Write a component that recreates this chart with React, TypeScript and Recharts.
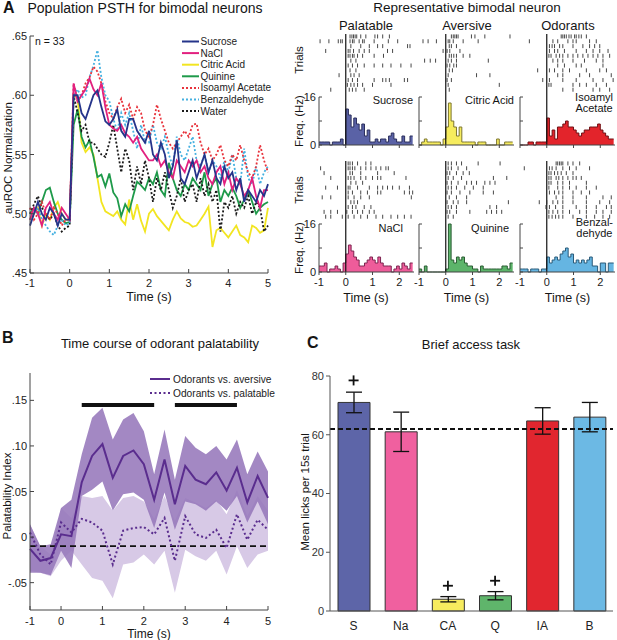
import React from 'react';
import {
  ComposedChart, Line, Area, XAxis, YAxis, ReferenceLine,
  ScatterChart, Scatter, Bar, ErrorBar, Cell,
} from 'recharts';

const FONT = '"Liberation Sans", Arial, Helvetica, sans-serif';
const AXIS = '#444';

// ---------- Panel A: population PSTH (auROC), 0.1 s steps
const psthTime = [
  -1, -0.9, -0.8, -0.7, -0.6, -0.5, -0.4, -0.3, -0.2, -0.1,
  0, 0.1, 0.2, 0.3, 0.4, 0.5, 0.6, 0.7, 0.8, 0.9,
  1, 1.1, 1.2, 1.3, 1.4, 1.5, 1.6, 1.7, 1.8, 1.9,
  2, 2.1, 2.2, 2.3, 2.4, 2.5, 2.6, 2.7, 2.8, 2.9,
  3, 3.1, 3.2, 3.3, 3.4, 3.5, 3.6, 3.7, 3.8, 3.9,
  4, 4.1, 4.2, 4.3, 4.4, 4.5, 4.6, 4.7, 4.8, 4.9,
  5,
];
const sucrose = [
  .490, .500, .510, .500, .495, .505, .500, .490, .500, .495,
  .495, .600, .600, .585, .580, .590, .600, .604, .590, .578,
  .575, .580, .588, .570, .565, .580, .580, .570, .565, .560,
  .570, .550, .545, .560, .550, .530, .540, .562, .530, .525,
  .535, .545, .530, .540, .550, .535, .545, .530, .525, .540,
  .530, .535, .520, .530, .510, .520, .515, .510, .520, .515,
  .525,
];
const nacl = [
  .495, .505, .500, .490, .505, .510, .500, .495, .505, .500,
  .495, .610, .595, .600, .605, .614, .605, .600, .610, .590,
  .575, .572, .570, .575, .568, .565, .560, .565, .555, .550,
  .545, .545, .550, .540, .545, .535, .530, .545, .540, .535,
  .545, .540, .545, .535, .540, .530, .525, .535, .540, .525,
  .535, .520, .530, .525, .515, .520, .530, .515, .505, .520,
  .520,
];
const citric = [
  .495, .500, .505, .490, .500, .495, .505, .510, .500, .495,
  .495, .600, .598, .560, .552, .556, .550, .530, .510, .502,
  .500, .498, .502, .495, .491, .512, .495, .508, .494, .485,
  .500, .504, .498, .494, .490, .486, .495, .502, .496, .493,
  .492, .489, .490, .495, .500, .506, .472, .486, .488, .484,
  .480, .485, .490, .482, .480, .476, .490, .488, .484, .486,
  .505,
];
const quinine = [
  .500, .505, .500, .510, .520, .522, .510, .500, .495, .492,
  .493, .575, .588, .565, .556, .562, .548, .531, .533, .523,
  .534, .518, .513, .498, .508, .502, .515, .527, .524, .520,
  .530, .525, .535, .520, .515, .543, .530, .520, .515, .525,
  .520, .530, .525, .520, .535, .515, .525, .530, .510, .520,
  .515, .522, .515, .505, .512, .520, .510, .500, .505, .508,
  .510,
];
const isoamyl = [
  .505, .495, .500, .510, .500, .495, .505, .500, .490, .495,
  .495, .610, .595, .600, .610, .615, .624, .620, .610, .595,
  .585, .580, .590, .597, .585, .592, .580, .590, .585, .570,
  .565, .575, .592, .580, .570, .560, .555, .560, .565, .570,
  .565, .575, .576, .560, .550, .555, .545, .550, .558, .545,
  .540, .550, .545, .558, .545, .535, .530, .540, .558, .545,
  .535,
];
const benzaldehyde = [
  .495, .500, .505, .495, .490, .485, .482, .490, .495, .490,
  .492, .600, .605, .598, .600, .615, .625, .638, .615, .600,
  .595, .580, .570, .585, .575, .585, .570, .555, .575, .560,
  .560, .575, .560, .555, .565, .550, .540, .565, .550, .545,
  .555, .565, .545, .540, .550, .535, .545, .540, .530, .545,
  .535, .550, .530, .525, .555, .530, .525, .540, .525, .535,
  .540,
];
const water = [
  .500, .508, .515, .505, .500, .495, .500, .490, .485, .488,
  .490, .600, .585, .570, .575, .560, .560, .555, .550, .548,
  .560, .575, .555, .535, .555, .545, .520, .540, .525, .545,
  .530, .510, .530, .520, .535, .520, .505, .515, .530, .510,
  .520, .525, .510, .530, .515, .525, .510, .520, .485, .510,
  .505, .515, .500, .510, .505, .515, .500, .510, .505, .485,
  .490,
];
const psthTicksX = [-1, 0, 1, 2, 3, 4, 5];
const psthTicksY = [0.45, 0.5, 0.55, 0.6, 0.65];

const psthSeries = [
  { key: 'sucrose', name: 'Sucrose', color: '#25348a', dotted: false },
  { key: 'nacl', name: 'NaCl', color: '#e2207f', dotted: false },
  { key: 'citric', name: 'Citric Acid', color: '#f2e521', dotted: false },
  { key: 'quinine', name: 'Quinine', color: '#1e9a4a', dotted: false },
  { key: 'isoamyl', name: 'Isoamyl Acetate', color: '#e8333c', dotted: true },
  { key: 'benzaldehyde', name: 'Benzaldehyde', color: '#45b0e0', dotted: true },
  { key: 'water', name: 'Water', color: '#1a1a1a', dotted: true },
];
// drawing order (back to front)
const psthDrawOrder = ['citric', 'quinine', 'water', 'benzaldehyde', 'isoamyl', 'nacl', 'sucrose'];

// ---------- Representative neuron: 0.1 s bins from -1 to 2.5 s
const binEdges = [
  -1, -0.9, -0.8, -0.7, -0.6, -0.5, -0.4, -0.3, -0.2, -0.1,
  0, 0.1, 0.2, 0.3, 0.4, 0.5, 0.6, 0.7, 0.8, 0.9,
  1, 1.1, 1.2, 1.3, 1.4, 1.5, 1.6, 1.7, 1.8, 1.9,
  2, 2.1, 2.2, 2.3, 2.4, 2.5,
];
const sucroseHist = [1, 1, 1, 1, 0, 1, 1, 1, 2, 0, 12, 10, 6, 9, 7, 5, 7, 3, 5, 1, 1, 2, 1, 2, 2, 1, 3, 4, 2, 1, 1, 3, 1, 1, 3];
const citricHist = [0, 1, 2, 1, 1, 1, 1, 1, 0, 2, 6, 14, 8, 6, 3, 6, 1, 1, 1, 1, 1, 0, 1, 1, 1, 0, 0, 0, 0, 2, 0, 0, 1, 1, 1];
const isoHist = [0, 0, 0, 1, 1, 0, 1, 1, 1, 1, 9, 3, 5, 2, 6, 6, 7, 8, 6, 6, 5, 4, 3, 4, 5, 5, 6, 6, 6, 7, 5, 4, 3, 2, 2];
const naclHist = [2, 2, 3, 0, 1, 1, 2, 1, 0, 3, 6, 9, 7, 5, 4, 2, 2, 3, 4, 5, 4, 3, 5, 3, 2, 2, 2, 0, 1, 2, 1, 3, 2, 1, 3];
const quinHist = [1, 0, 2, 0, 0, 0, 0, 0, 0, 0, 1, 16, 4, 3, 5, 4, 5, 3, 2, 2, 1, 1, 0, 2, 1, 1, 1, 1, 1, 1, 1, 2, 2, 1, 3];
const benzHist = [1, 1, 1, 0, 1, 1, 1, 0, 1, 1, 5, 3, 4, 5, 4, 6, 7, 8, 5, 6, 3, 4, 3, 4, 3, 4, 5, 2, 2, 0, 3, 3, 0, 3, 3];

// spike times (s) per trial
const sucroseRaster = [
  [0.16, 0.23, 0.29, 0.35, 0.41, 0.56, 0.75, 1.09, 1.19, 1.38, 1.63],
  [-0.96, -0.63, -0.28, -0.19, -0.13, 0.16, 0.25, 0.31, 0.5, 0.63, 0.69, 1.06, 1.59, 1.94],
  [0.19, 0.56, 0.88, 1.19, 1.38, 2.31, 2.4],
  [-0.75, 0.09, 0.16, 0.29, 0.5, 0.69, 0.88, 1.56, 1.75],
  [0.09, 0.16, 0.25, 0.31, 0.44, 0.63, 1.06, 1.41],
  [0.19, 0.38],
  [0.09, 0.25, 0.44, 0.69, 1.06, 1.38, 1.69, 2.06, 2.44],
  [0.16, 0.38],
  [-0.25, 0.19, 0.31, 0.5],
  [0.09, 0.25, 0.44, 1.06, 1.38, 1.5, 1.63, 2.19, 2.31],
  [0.06, 0.19, 0.31, 0.44, 0.63, 1.0, 1.69],
  [-0.56, 0.13, 0.25, 0.38, 0.69],
];
const citricRaster = [
  [0.21, 0.28, 0.34, 0.4, 0.46, 0.96, 1.09, 1.46, 2.4],
  [-0.85, -0.66, -0.35, 0.09, 0.15, 0.28, 0.65, 1.21],
  [0.13, 0.21, 0.4],
  [-0.1, 0.05, 0.15, 0.53],
  [0.13, 0.21, 0.3, 0.4, 0.65, 0.9],
  [-0.79, -0.58, -0.38, 0.09, 0.21, 0.4, 1.59],
  [0.05, 0.15, 0.3, 0.4],
  [0.13, 0.25],
  [0.09, 1.15, 1.65],
  [0.05, 0.21],
  [0.09, 2.0],
  [0.13],
];
const isoRaster = [
  [0.54, 0.6, 0.66, 0.73, 0.83, 0.91, 1.04, 1.1, 1.2, 1.29, 1.48],
  [-0.65, 0.23, 0.41, 0.79, 0.98, 1.1, 1.6, 1.85],
  [0.1, 0.2, 0.29, 0.48, 0.6, 0.98, 1.35, 1.6, 1.79, 1.98],
  [0.1, 0.29, 0.41, 0.66, 1.1, 1.48, 1.73, 1.98, 2.29],
  [0.08, 0.16, 0.35, 0.48, 0.6, 0.79, 0.98, 1.16, 1.35, 1.54, 1.73, 1.91, 2.1, 2.35],
  [0.23, 0.41, 0.6, 0.98, 1.41, 1.85, 2.1],
  [0.41, 0.66, 1.1, 1.29, 2.1],
  [-0.34, 0.1, 0.29, 0.6, 0.85, 1.48, 1.98, 2.23],
  [0.41, 0.6, 1.23, 1.6, 2.41],
  [-0.15, 0.1, 0.6, 1.1, 1.73, 2.1, 2.48],
  [0.08, 0.16, 0.98, 1.23, 1.48, 1.85, 2.23],
  [0.6, 0.98, 1.73, 1.98, 2.35],
];
const naclRaster = [
  [0.09, 0.16, 0.25, 0.44, 0.75, 0.94],
  [-0.94, 0.09, 0.16, 0.25, 0.34, 0.56, 0.75, 0.94, 1.13, 1.31, 1.5, 1.59],
  [-0.81, 0.16, 0.25, 0.56, 1.19, 1.81],
  [-0.56, 0.09, 0.19, 0.31, 0.56, 0.75, 1.0, 1.19, 1.31, 2.25],
  [0.19, 0.38, 0.63],
  [-0.75, -0.31, 0.09, 0.16, 0.44, 0.88, 1.19, 1.38, 1.56, 1.75, 2.0, 2.38],
  [0.09, 0.25, 0.56, 0.81, 1.19, 1.31, 2.19, 2.38, 2.5],
  [-0.88, -0.56, 0.09, 0.31, 0.56, 0.88, 2.45],
  [0.19, 0.31, 0.44],
  [0.09, 0.25, 0.38, 0.69, 0.94],
  [-0.81, -0.56, -0.31, 0.04, 0.25, 0.44, 0.63, 0.88, 1.06],
  [-0.75, -0.56, -0.13, 0.09, 0.31, 0.56, 0.81, 1.13, 1.38, 1.69, 1.94, 2.19, 2.44],
];
const quinRaster = [
  [0.09, 0.21, 0.4, 0.59, 1.21, 2.03],
  [0.09, 0.21, 0.46, 0.78],
  [0.05, 0.15, 0.4, 0.65, 0.88],
  [0.09, 0.28, 0.59, 1.78, 2.28],
  [0.05, 0.21, 0.46, 0.78, 0.96, 1.15, 1.46, 1.65, 1.84],
  [0.09, 0.21, 0.4, 0.71, 1.03, 1.4],
  [0.05, 0.21, 0.53, 0.9, 1.4, 1.78],
  [0.13, 0.4, 0.78],
  [0.05, 0.28, 0.46, 0.78, 2.34],
  [0.09, 0.21, 0.4, 1.65, 1.9],
  [0.05, 0.15, 0.4, 0.9, 1.53, 1.71, 1.9, 2.09],
  [0.09, 0.28],
];
const benzRaster = [
  [0.35, 0.41, 0.48, 0.54, 0.6, 0.79, 0.98, 1.23],
  [-0.84, 0.1, 0.2, 0.35, 0.6, 0.85, 1.1, 1.6],
  [0.08, 0.16, 0.29, 0.41, 0.54, 0.73, 0.98],
  [0.08, 0.16, 0.35, 0.45, 0.6, 0.79, 0.98, 1.1, 1.29],
  [0.08, 0.16, 0.41, 0.6, 0.85, 1.48],
  [0.08, 0.41, 0.6, 0.85, 1.1, 1.48, 1.85],
  [0.1, 0.29, 0.45, 0.6, 0.98, 1.29, 1.6],
  [0.35, 0.6, 0.98, 1.48, 2.1, 2.41],
  [-0.28, 0.0, 0.23, 0.41, 0.6, 0.98, 1.48, 1.98, 2.35],
  [-0.03, 0.1, 0.33, 0.6, 1.1, 1.48, 1.85, 2.23, 2.41],
  [0.08, 0.23, 0.41, 0.6, 0.85, 1.23, 1.48, 1.85, 2.1, 2.41],
  [0.08, 0.2, 0.33, 0.45, 0.6, 0.98, 1.48, 1.79, 2.1, 2.35],
];

// ---------- Panel B: palatability index, 0.25 s bins
const pbTime = [-0.75, -0.5, -0.25, 0, 0.25, 0.5, 0.75, 1, 1.25, 1.5, 1.75, 2, 2.25, 2.5, 2.75, 3, 3.25, 3.5, 3.75, 4, 4.25, 4.5, 4.75, 5];
const vsAversive = [-0.013, -0.026, -0.023, 0.003, 0.001, 0.060, 0.089, 0.102, 0.065, 0.089, 0.095, 0.080, 0.041, 0.085, 0.036, 0.078, 0.063, 0.058, 0.071, 0.051, 0.076, 0.038, 0.067, 0.043];
const vsAversiveHi = [0.014, -0.010, -0.008, 0.032, 0.041, 0.091, 0.131, 0.142, 0.107, 0.129, 0.136, 0.116, 0.069, 0.118, 0.063, 0.111, 0.098, 0.091, 0.100, 0.085, 0.107, 0.069, 0.094, 0.072];
const vsAversiveLo = [-0.039, -0.039, -0.042, -0.015, -0.034, 0.045, 0.052, 0.061, 0.029, 0.047, 0.049, 0.041, 0.010, 0.049, 0.008, 0.039, 0.036, 0.029, 0.039, 0.029, 0.045, 0.016, 0.039, 0.014];
const vsPalatable = [0.005, -0.019, -0.030, 0.016, 0.005, 0.020, 0.016, 0.007, -0.030, 0.007, 0.010, 0.011, 0.003, 0.021, -0.026, 0.023, 0.003, -0.001, 0.008, -0.012, 0.025, -0.003, 0.019, 0.008];
const vsPalatableHi = [0.014, -0.010, -0.019, 0.032, 0.021, 0.045, 0.043, 0.045, 0.029, 0.043, 0.045, 0.039, 0.020, 0.045, 0.018, 0.043, 0.038, 0.032, 0.041, 0.025, 0.052, 0.023, 0.045, 0.029];
const vsPalatableLo = [-0.037, -0.039, -0.043, -0.026, -0.015, -0.030, -0.045, -0.048, -0.067, -0.030, -0.028, -0.019, -0.030, -0.015, -0.061, -0.014, -0.021, -0.026, -0.015, -0.041, -0.010, -0.034, -0.019, -0.015];
const sigBars = [[0.5, 2.25], [2.75, 4.25]];
const sigBarY = 0.145;
const pbBaseline = -0.01;
const pbTicksX = [-0.75, 0, 1, 2, 3, 4, 5];
const pbTickLabels = ['-1', '0', '1', '2', '3', '4', '5'];
const pbTicksY = [-0.05, 0, 0.05, 0.1, 0.15];
const PURPLE = '#5a2d8e';

// ---------- Panel C: brief access task
const tastants = ['S', 'Na', 'CA', 'Q', 'IA', 'B'];
const meanLicks = [71, 61, 4, 5.2, 64.7, 66];
const licksErr = [3.5, 6.7, 0.9, 1.4, 4.5, 5];
const plusMarks = [78.5, null, 8.6, 10.3, null, null];
const barColors = ['#5d65a8', '#f0609f', '#f7ec5f', '#5fb56b', '#e1262f', '#6cb9e4'];
const waterLicks = 62;

const psthRows = psthTime.map((t, i) => ({
  t, sucrose: sucrose[i], nacl: nacl[i], citric: citric[i], quinine: quinine[i],
  isoamyl: isoamyl[i], benzaldehyde: benzaldehyde[i], water: water[i],
}));
const pbRows = pbTime.map((t, i) => ({
  t,
  av: vsAversive[i], avBand: [vsAversiveLo[i], vsAversiveHi[i]],
  pal: vsPalatable[i], palBand: [vsPalatableLo[i], vsPalatableHi[i]],
}));
const lickRows = tastants.map((cat, i) => ({ cat, licks: meanLicks[i], err: licksErr[i], plus: plusMarks[i] }));

const fmtDec = (v: number) => (v === 0 ? '0' : v.toFixed(2).replace('0.', '.'));

function Txt({ x, y, size = 12, anchor = 'middle', weight = 400, rotate = false, align = 'left', children }: any) {
  const tx = anchor === 'middle' ? '-50%' : anchor === 'end' ? '-100%' : '0';
  return (
    <div style={{
      position: 'absolute', left: x, top: y, fontSize: size, fontWeight: weight, lineHeight: 1,
      transform: `translate(${tx},-50%)${rotate ? ' rotate(-90deg)' : ''}`,
      whiteSpace: 'nowrap', color: '#151515', textAlign: align,
    }}>{children}</div>
  );
}

function TickX(p: any) {
  const { x, y, payload, up, len, show, fmt, gap } = p;
  return (
    <g>
      <line x1={x} x2={x} y1={y} y2={up ? y - len : y + len} stroke={AXIS} strokeWidth={1} />
      {show && (
        <text x={x} y={y + gap} textAnchor="middle" dominantBaseline="central" fontSize={11} fill="#222" fontFamily={FONT}>
          {fmt ? fmt(payload.value) : payload.value}
        </text>
      )}
    </g>
  );
}

function TickY(p: any) {
  const { x, y, payload, len, show, fmt } = p;
  return (
    <g>
      <line x1={x} x2={x + len} y1={y} y2={y} stroke={AXIS} strokeWidth={1} />
      {show && (
        <text x={x - 3} y={y} textAnchor="end" dominantBaseline="central" fontSize={11} fill="#222" fontFamily={FONT}>
          {fmt ? fmt(payload.value) : payload.value}
        </text>
      )}
    </g>
  );
}

const SpikeTick = (p: any) => (
  <line x1={p.cx} x2={p.cx} y1={p.cy - 2} y2={p.cy + 2} stroke="#333" strokeWidth={0.9} />
);

const PlusShape = (p: any) => {
  if (p.cy == null || isNaN(p.cy) || p.payload?.plus == null) return <g />;
  return (
    <g stroke="#111" strokeWidth={1.8}>
      <line x1={p.cx - 5} x2={p.cx + 5} y1={p.cy} y2={p.cy} />
      <line x1={p.cx} x2={p.cx} y1={p.cy - 5} y2={p.cy + 5} />
    </g>
  );
};

const COL_X = [319, 419, 519.5];

function NeuronCell({ col, row, hist, raster, fill, stroke }: any) {
  const left = COL_X[col];
  const rasterTop = row === 0 ? 34 : 161;
  const histTop = row === 0 ? 89 : 216;
  const spikes = raster.flatMap((ts: number[], i: number) => ts.map((t) => ({ t, trial: i + 1 })));
  const bins = binEdges.map((t, i) => ({ t, v: i < hist.length ? hist[i] : hist[hist.length - 1] }));
  return (
    <>
      <div style={{ position: 'absolute', left, top: rasterTop }}>
        <ScatterChart width={95} height={63} margin={{ top: 0, right: 0, bottom: 0, left: 0 }}>
          <XAxis type="number" dataKey="t" domain={[-1, 2.55]} hide allowDataOverflow />
          <YAxis type="number" dataKey="trial" domain={[0.5, 13.5]} reversed hide width={0} />
          <ReferenceLine x={0} stroke="#111" strokeWidth={1.2} />
          <Scatter data={spikes} shape={SpikeTick} isAnimationActive={false} />
        </ScatterChart>
      </div>
      <div style={{ position: 'absolute', left: left - 20, top: histTop }}>
        <ComposedChart width={115} height={74} data={bins} margin={{ top: 8, right: 0, bottom: 0, left: 0 }}>
          <XAxis type="number" dataKey="t" domain={[-1, 2.55]} ticks={[-1, 0, 1, 2]} interval={0}
            height={18} tickSize={0} tickMargin={0} tickLine={false} stroke={AXIS} allowDataOverflow
            tick={(p: any) => <TickX {...p} up={false} len={3} show={row === 1} gap={10} />} />
          <YAxis type="number" width={20} domain={[0, 16]} ticks={[0, 8, 16]} interval={0}
            tickSize={0} tickMargin={0} tickLine={false} stroke={AXIS}
            tick={(p: any) => <TickY {...p} len={3} show={col === 0} fmt={(v: number) => (v === 8 ? '' : String(v))} />} />
          <Area type="stepAfter" dataKey="v" stroke={stroke} strokeWidth={1} fill={fill} fillOpacity={1}
            isAnimationActive={false} dot={false} activeDot={false} />
          <ReferenceLine x={0} stroke="#111" strokeWidth={1.2} />
        </ComposedChart>
      </div>
    </>
  );
}

function PsthLegend() {
  return (
    <svg width={105} height={84} style={{ position: 'absolute', left: 180, top: 35 }}>
      {psthSeries.map((s, i) => {
        const y = 6.5 + i * 11.6;
        return (
          <g key={s.key}>
            <line x1={2} x2={19} y1={y} y2={y} stroke={s.color} strokeWidth={2}
              strokeDasharray={s.dotted ? '2 2' : undefined} />
            <text x={20.5} y={y} dominantBaseline="central" fontSize={10} fill="#222" fontFamily={FONT}>{s.name}</text>
          </g>
        );
      })}
    </svg>
  );
}

function PbLegend() {
  const items = [
    { name: 'Odorants vs. aversive', dash: undefined },
    { name: 'Odorants vs. palatable', dash: '2 2.5' },
  ];
  return (
    <svg width={140} height={28} style={{ position: 'absolute', left: 148, top: 372 }}>
      {items.map((it, i) => {
        const y = 7 + i * 14;
        return (
          <g key={it.name}>
            <line x1={2} x2={22} y1={y} y2={y} stroke={PURPLE} strokeWidth={2} strokeDasharray={it.dash} />
            <text x={25} y={y} dominantBaseline="central" fontSize={10.2} fill="#222" fontFamily={FONT}>{it.name}</text>
          </g>
        );
      })}
    </svg>
  );
}

export default function App() {
  return (
    <div style={{
      position: 'absolute', left: 0, top: 0, width: 617, height: 640, background: '#fff',
      fontFamily: FONT, overflow: 'hidden',
    }}>
      {/* ---------- Panel A ---------- */}
      <div style={{ position: 'absolute', left: 0, top: 0 }}>
        <ComposedChart width={275} height={300} data={psthRows} margin={{ top: 36, right: 7, bottom: 0, left: 0 }}>
          <XAxis type="number" dataKey="t" domain={[-1, 5]} ticks={psthTicksX} interval={0} height={27}
            tickSize={0} tickMargin={0} tickLine={false} stroke={AXIS}
            tick={(p: any) => <TickX {...p} up len={4} show gap={10} />} />
          <YAxis type="number" width={30} domain={[0.45, 0.65]} ticks={psthTicksY} interval={0}
            tickSize={0} tickMargin={0} tickLine={false} stroke={AXIS}
            tick={(p: any) => <TickY {...p} len={4} show fmt={fmtDec} />} />
          {psthDrawOrder.map((k) => {
            const s = psthSeries.find((d) => d.key === k)!;
            return (
              <Line key={k} type="linear" dataKey={k} stroke={s.color} strokeWidth={1.8}
                strokeDasharray={s.dotted ? '2 2' : undefined} dot={false} activeDot={false}
                isAnimationActive={false} />
            );
          })}
        </ComposedChart>
      </div>
      <PsthLegend />
      <Txt x={3} y={8} size={16} weight={700} anchor="start">A</Txt>
      <Txt x={145} y={8} size={14}>Population PSTH for bimodal neurons</Txt>
      <Txt x={35} y={41} size={10.5} anchor="start">n = 33</Txt>
      <Txt x={9} y={158} size={11.5} rotate>auROC Normalization</Txt>
      <Txt x={149} y={297} size={12.5}>Time (s)</Txt>

      {/* ---------- Representative neuron ---------- */}
      <Txt x={467} y={8} size={13.5}>Representative bimodal neuron</Txt>
      <Txt x={366} y={25} size={13}>Palatable</Txt>
      <Txt x={467} y={25} size={13}>Aversive</Txt>
      <Txt x={568} y={25} size={13}>Odorants</Txt>
      <Txt x={300} y={60} size={11.5} rotate>Trials</Txt>
      <Txt x={300} y={121} size={11.5} rotate>Freq. (Hz)</Txt>
      <Txt x={300} y={190} size={11.5} rotate>Trials</Txt>
      <Txt x={300} y={248} size={11.5} rotate>Freq. (Hz)</Txt>

      <NeuronCell col={0} row={0} hist={sucroseHist} raster={sucroseRaster} fill="#5a62a6" stroke="#2b2f5c" />
      <NeuronCell col={1} row={0} hist={citricHist} raster={citricRaster} fill="#f6ec5e" stroke="#7d7630" />
      <NeuronCell col={2} row={0} hist={isoHist} raster={isoRaster} fill="#e3242b" stroke="#701014" />
      <NeuronCell col={0} row={1} hist={naclHist} raster={naclRaster} fill="#ee5c9a" stroke="#7e2450" />
      <NeuronCell col={1} row={1} hist={quinHist} raster={quinRaster} fill="#5cb46a" stroke="#2a5c33" />
      <NeuronCell col={2} row={1} hist={benzHist} raster={benzRaster} fill="#65b5e2" stroke="#2a5a78" />

      <Txt x={413} y={100} size={11} anchor="end">Sucrose</Txt>
      <Txt x={514} y={100} size={11} anchor="end">Citric Acid</Txt>
      <Txt x={613} y={102.5} size={11} anchor="end" align="center">Isoamyl<br />Acetate</Txt>
      <Txt x={403} y={228} size={11} anchor="end">NaCl</Txt>
      <Txt x={509} y={228} size={11} anchor="end">Quinine</Txt>
      <Txt x={613} y={228} size={11} anchor="end" align="center">Benzal-<br />dehyde</Txt>
      <Txt x={366} y={298} size={12.5}>Time (s)</Txt>
      <Txt x={466.5} y={298} size={12.5}>Time (s)</Txt>
      <Txt x={567.5} y={298} size={12.5}>Time (s)</Txt>

      {/* ---------- Panel B ---------- */}
      <div style={{ position: 'absolute', left: 0, top: 350 }}>
        <ComposedChart width={275} height={290} data={pbRows} margin={{ top: 23, right: 7, bottom: 0, left: 0 }}>
          <XAxis type="number" dataKey="t" domain={[-0.75, 5]} ticks={pbTicksX} interval={0} height={30}
            tickSize={0} tickMargin={0} tickLine={false} stroke={AXIS}
            tick={(p: any) => <TickX {...p} up len={4} show gap={11}
              fmt={(v: number) => pbTickLabels[pbTicksX.indexOf(v)]} />} />
          <YAxis type="number" width={30} domain={[-0.08, 0.18]} ticks={pbTicksY} interval={0}
            tickSize={0} tickMargin={0} tickLine={false} stroke={AXIS}
            tick={(p: any) => <TickY {...p} len={4} show fmt={fmtDec} />} />
          <Area type="linear" dataKey="palBand" stroke="none" fill="#d7c9e6" fillOpacity={1}
            isAnimationActive={false} dot={false} activeDot={false} />
          <Area type="linear" dataKey="avBand" stroke="none" fill="#9677bb" fillOpacity={0.88}
            isAnimationActive={false} dot={false} activeDot={false} />
          <ReferenceLine y={pbBaseline} stroke="#111" strokeWidth={1.8} strokeDasharray="6 4" />
          <Line type="linear" dataKey="pal" stroke={PURPLE} strokeWidth={2} strokeDasharray="2 2.5"
            dot={false} activeDot={false} isAnimationActive={false} />
          <Line type="linear" dataKey="av" stroke={PURPLE} strokeWidth={2}
            dot={false} activeDot={false} isAnimationActive={false} />
          {sigBars.map(([a, b]) => (
            <ReferenceLine key={a} segment={[{ x: a, y: sigBarY }, { x: b, y: sigBarY }]} stroke="#111" strokeWidth={4} />
          ))}
        </ComposedChart>
      </div>
      <PbLegend />
      <Txt x={2} y={338} size={16} weight={700} anchor="start">B</Txt>
      <Txt x={160} y={343} size={13}>Time course of odorant palatability</Txt>
      <Txt x={8} y={496} size={11.5} rotate>Palatability Index</Txt>
      <Txt x={149} y={634} size={12}>Time (s)</Txt>

      {/* ---------- Panel C ---------- */}
      <div style={{ position: 'absolute', left: 290, top: 350 }}>
        <ComposedChart width={327} height={290} data={lickRows} margin={{ top: 26, right: 4, bottom: 0, left: 0 }}>
          <XAxis dataKey="cat" height={29} tickLine={false} tickSize={0} tickMargin={10} interval={0}
            stroke="#555" tick={{ fontSize: 12, fill: '#222', fontFamily: FONT }} />
          <YAxis type="number" width={40} domain={[0, 80]} ticks={[0, 20, 40, 60, 80]} interval={0}
            tickSize={4} tickMargin={2} stroke="#555" tick={{ fontSize: 11, fill: '#333', fontFamily: FONT }} />
          <Bar dataKey="licks" barSize={32} stroke="#333" strokeWidth={1} isAnimationActive={false}>
            {lickRows.map((r, i) => <Cell key={r.cat} fill={barColors[i]} />)}
            <ErrorBar dataKey="err" width={8} stroke="#111" strokeWidth={1.3} direction="y" />
          </Bar>
          <ReferenceLine y={waterLicks} stroke="#111" strokeWidth={2} strokeDasharray="5 3" />
          <Scatter dataKey="plus" shape={PlusShape} isAnimationActive={false} />
        </ComposedChart>
      </div>
      <Txt x={307} y={343} size={16} weight={700} anchor="start">C</Txt>
      <Txt x={471} y={344} size={13}>Brief access task</Txt>
      <Txt x={306} y={492} size={11.5} rotate>Mean licks per 15s trial</Txt>
    </div>
  );
}
